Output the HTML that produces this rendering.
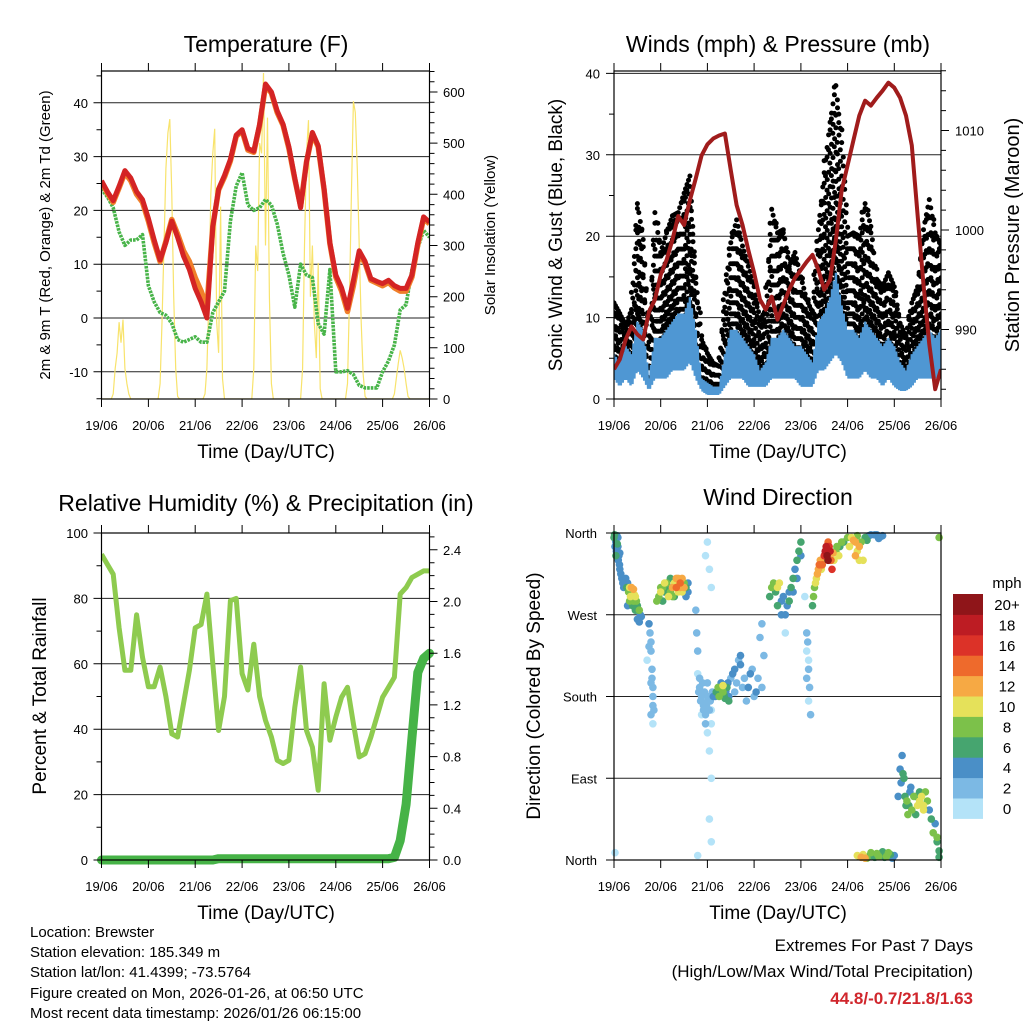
<!DOCTYPE html>
<html><head><meta charset="utf-8"><style>
html,body{margin:0;padding:0;background:#fff;}
svg{display:block;font-family:"Liberation Sans",Arial,sans-serif;}
</style></head><body>
<svg id="chart" width="1024" height="1024" viewBox="0 0 1024 1024" xmlns="http://www.w3.org/2000/svg">
<rect x="0" y="0" width="1024" height="1024" fill="#fff"/>
<defs>
<clipPath id="c1"><rect x="101.5" y="71" width="328" height="328"/></clipPath>
<clipPath id="c2"><rect x="614" y="71" width="327" height="328"/></clipPath>
<clipPath id="c3"><rect x="101.5" y="533" width="328" height="327"/></clipPath>
<clipPath id="c4"><rect x="608" y="527" width="339" height="339"/></clipPath>
</defs>
<text x="266" y="52" font-size="23" text-anchor="middle">Temperature (F)</text>
<text x="778" y="52" font-size="23" text-anchor="middle">Winds (mph) &amp; Pressure (mb)</text>
<text x="266" y="511" font-size="23" text-anchor="middle">Relative Humidity (%) &amp; Precipitation (in)</text>
<text x="778" y="505" font-size="23" text-anchor="middle">Wind Direction</text>
<text x="266" y="458" font-size="19" text-anchor="middle">Time (Day/UTC)</text>
<text x="778" y="458" font-size="19" text-anchor="middle">Time (Day/UTC)</text>
<text x="266" y="919" font-size="19" text-anchor="middle">Time (Day/UTC)</text>
<text x="778" y="919" font-size="19" text-anchor="middle">Time (Day/UTC)</text>
<text transform="translate(50,235) rotate(-90)" font-size="15" text-anchor="middle">2m &amp; 9m T (Red, Orange) &amp; 2m Td (Green)</text>
<text transform="translate(495,235) rotate(-90)" font-size="15" text-anchor="middle">Solar Insolation (Yellow)</text>
<text transform="translate(562,235) rotate(-90)" font-size="19" text-anchor="middle">Sonic Wind &amp; Gust (Blue, Black)</text>
<text transform="translate(1019,235) rotate(-90)" font-size="20" text-anchor="middle">Station Pressure (Maroon)</text>
<text transform="translate(46,696) rotate(-90)" font-size="19" text-anchor="middle">Percent &amp; Total Rainfall</text>
<text transform="translate(540,696) rotate(-90)" font-size="19" text-anchor="middle">Direction (Colored By Speed)</text>
<g font-size="15">
<text x="30" y="937">Location: Brewster</text>
<text x="30" y="957">Station elevation: 185.349 m</text>
<text x="30" y="977">Station lat/lon: 41.4399; -73.5764</text>
<text x="30" y="998">Figure created on Mon, 2026-01-26, at 06:50 UTC</text>
<text x="30" y="1018">Most recent data timestamp: 2026/01/26 06:15:00</text>
</g>
<g font-size="17" text-anchor="end">
<text x="973" y="951">Extremes For Past 7 Days</text>
<text x="973" y="977">(High/Low/Max Wind/Total Precipitation)</text>
<text x="973" y="1004" fill="#d0262c" font-weight="bold">44.8/-0.7/21.8/1.63</text>
</g>
</svg>
<script>
// ---------- data (3-hourly, hours since 19/06 00 UTC) ----------
const hours = [0,3,6,9,12,15,18,21,24,27,30,33,36,39,42,45,48,51,54,57,60,63,66,69,72,75,78,81,84,87,90,93,96,99,102,105,108,111,114,117,120,123,126,129,132,135,138,141,144,147,150,153,156,159,162,165,168];
const dayLabels = ['19/06','20/06','21/06','22/06','23/06','24/06','25/06','26/06'];
const temp2m = [25.5,23.5,21.8,24.5,27.4,26,23.5,22,18.5,14.5,10.8,14,18,15,11.5,9,5.5,3,0,17,24,26.5,29.5,34,35,31.5,31,36,43.5,42,38.5,36,31.8,26,20.5,29,34.5,32,24,14,8,5.6,1.8,7,12.5,10.5,7.3,6.8,6.4,7,6,5.5,5.5,8,14,18.8,17.8];
const temp9m = [25.3,23.2,21.5,24.2,27,25.5,23,21.5,18,14,10.5,14.3,18.3,15.6,12.5,10.5,7.5,5,2,17,23.8,26.2,29.2,33.8,34.8,31.2,30.8,35.8,43.2,41.8,38.2,35.8,31.5,25.8,20.8,29,34.2,31.8,23.8,13.8,7.6,5,1.2,6,11.8,10.2,7,6.5,6,6.6,5.6,5,5,7.6,13.6,18.5,17.5];
const dewpoint = [24,22.5,20.5,16,13.5,14.5,14.5,15.5,6,3,1,0.5,-1,-4,-4.5,-4,-3.5,-4.5,-4.5,1,3,5,18,24.5,27,21,20,20.5,22,21,17.5,12,8,2,10,8,7.5,-1,-3,9,-10,-10,-9.8,-10.5,-12.5,-13,-13,-13,-10,-8,-5,1.5,2.5,9,13,16.3,15];
const solarDay1 = [0,0,0,0,0,0,10,60,90,150,110,155,60,30,10,0,0,0,0,0,0,0,0,0];
const solarDay2 = [0,0,0,0,0,0,30,150,300,450,520,547,400,200,60,5,0,0,0,0,0,0,0,0];
const solarDay3 = [0,0,0,0,0,10,60,200,400,480,528,150,90,376,40,0,0,0,0,0,0,0,0,0];
const solarDay4 = [0,0,0,0,0,0,60,300,250,500,480,637,300,550,200,30,0,0,0,0,0,0,0,0];
const solarDay5 = [0,0,0,0,0,0,0,60,300,480,545,200,300,150,80,266,20,0,0,0,0,0,0,0];
const solarDay6 = [0,0,0,0,0,0,30,200,400,582,560,450,300,150,50,5,0,0,0,0,0,0,0,0];
const solarDay7 = [0,0,0,0,0,0,10,40,70,95,80,60,30,5,0,0,0,0,0,0,0,0,0,0,0];
const pressure = [986,987,989,990.3,989.5,989,991.8,993,995.5,997,999,1001.4,1000.5,1003,1005.2,1007.5,1008.6,1009.2,1009.5,1009.7,1006,1002.5,1000.5,998,995.7,993,992,993.3,991,992.5,994,995.2,996,996.8,997.5,996,994,995,999,1004,1006.5,1009,1011.5,1013,1012.5,1013.3,1014,1014.8,1014.3,1013.3,1011.5,1008.5,1001.5,994.5,988.5,984,986];
const gustMax = [11.8,10.5,9,11,24,19.6,7,22.9,18,20.4,22.5,22.9,25.3,27.4,15,7.3,5.6,4.4,4,13,19.2,22,18.8,16.3,13.8,9.7,11,23.3,20.4,20.8,16.3,18,15,12.2,10.6,20.8,27.8,34,38.5,31.5,20,20.4,20,24,21.2,14.7,13.8,15.5,13.8,9.3,7.7,11.8,13.8,20.8,24.5,20.4,18.8];
const windHigh = [6,5,7,6,10,9,3,8,8,9,10,11,11,13,9,3,2.5,2,2,6,9,9,8,7,6,4,5,8,8,9,8,7,7,6,5,10,11,13,16,12,9,9,8,10,9,8,7,8,7,5,4,6,7,8,9,8,9];
const windLow = [2,1,2,1,3,2,0.5,2,2,2,3,3,3,4,2,0.5,0,0,0,1,2,2,2,1,1,1,1,2,2,2,2,2,1,1,1,3,3,4,5,4,2,2,2,3,2,2,1,2,1,0.5,0.5,1,2,2,2,2,2];
const relHum = [93.5,90.4,87.4,71,58,58,75,62,53,53,59,50,38.6,37.6,47.8,58,71,72,81.3,60,39.6,50,79.3,80,57,52,66,50,42.7,37.6,30.5,29.5,30.5,46.7,59,39.6,34.5,21.3,53.9,36.6,43.7,49.8,52.8,41.7,31.5,32.5,37.6,43.7,49.8,52.8,55.9,81.3,83.3,86.4,87.4,88.4,88.4];
const precip = [0,0,0,0,0,0,0,0,0,0,0,0,0,0,0,0,0,0,0,0,0.01,0.01,0.01,0.01,0.01,0.01,0.01,0.01,0.01,0.01,0.01,0.01,0.01,0.01,0.01,0.01,0.01,0.01,0.01,0.01,0.01,0.01,0.01,0.01,0.01,0.01,0.01,0.01,0.01,0.01,0.02,0.15,0.43,0.94,1.45,1.56,1.6];
const wdHourA = [0,1,1.5,2,2.5,3,4,5,6,7,8,9,10,10,11,12,13,14,17,18,19,19,19.5,20,20,20,22,24,26,28,29,30,32,33,34,35,36,37,38,42,42.5,43,43,44,45,46,47,47,48,48,48,49,49,49,49,50,50,50,50,52,53,54,55,55,56,57,58,59,60,62,64,65,66,68,70,72,75,76,77,80,82,84,86,88,88,90,92,94,96,98,99,99,100,100,101,102,103,104,105,106,107,108,109,110,110,111,112,113,114,116,117,122,124,125,126,128,130,132,135,136,138,125,127,130,133,136,139,141,144,146,147,148,149,150,151,152,153,155,157,159,160,162,165,166,167,167,167,0.5,43];
const wdDirA = [355,350,357,345,335,320,310,300,310,305,300,295,285,298,290,280,275,268,220,260,240,160,210,190,170,150,285,300,305,300,310,290,310,295,305,310,300,290,305,275,250,230,205,190,180,170,160,335,175,350,140,165,320,120,45,300,150,90,20,180,185,180,190,195,185,178,190,180,200,210,220,225,190,175,205,180,245,260,225,290,305,300,285,270,250,295,310,330,350,290,250,200,220,175,160,280,300,310,320,330,325,335,345,330,350,340,320,330,340,345,350,355,350,357,345,330,352,358,358,354,357,5,3,2,6,4,3,8,5,70,100,115,90,60,50,75,55,70,65,60,75,55,40,25,10,3,355,8,5];
const wdSpeedA = [6,4,5,4,4,4,4,5,4,4,10,8,8,12,10,6,8,4,1,4,3,2,2,2,2,1,8,8,10,6,6,8,12,10,14,12,12,4,4,2,2,3,1,2,2,2,2,1,2,0,0,2,1,0,0,0,1,0,0,4,6,8,6,4,8,6,6,4,2,4,2,4,2,2,4,2,2,3,2,6,8,10,4,4,1,4,6,6,6,1,2,2,1,1,2,6,8,10,12,12,14,16,18,20,14,18,16,10,8,6,8,10,12,8,12,10,6,4,4,5,4,10,12,8,6,8,6,8,4,4,4,4,6,6,8,4,8,6,10,10,8,4,4,8,6,6,8,1,1];
const wdHourB = [0.3,0.8,1.2,1.7,2.2,2.8,3.5,0.5,1,2,3,4.5,6.5,7.5,8.5,9.5,10.5,11.5,12.5,13.5,8,9,11,12,13,7,18.5,19,19.5,20,20.5,19,18,23,24,25,26,27,28,30,31,32,33,34,35,36,37,38,25,29,31,43.5,44.5,45.5,46.5,47.5,48.5,49.5,50.5,51,46,44,45,47,48,50,52.5,53.5,54.5,55.5,56.5,57.5,58.5,59,56,61,63,65,67,69,71,73,62,74,76,81,83,85,87,89,91,93,95,84,86,90,92,94,96,99.5,100,100.5,99,102.5,103.5,104.5,105.5,106.5,107.5,108.5,109.5,110.5,111.5,112.5,114.5,115.5,118,120,121,123,125,127,129,131,134,137,124,126,126,128,129,131,132,134,135,137,138,140,142,143,147.5,148.5,149.5,150.5,151.5,152.5,154,156,158,159,161,163,164,166,155,157];
const wdDirB = [358,352,340,348,330,325,315,345,335,355,338,305,300,295,290,280,292,285,275,270,285,300,275,265,262,280,250,230,200,180,165,195,235,290,295,300,295,305,290,300,305,300,310,300,295,305,300,295,285,295,290,185,175,195,185,170,180,175,185,180,165,200,160,150,195,165,185,190,183,188,182,186,195,175,192,205,195,215,200,190,210,185,185,200,190,300,295,305,290,280,300,320,340,280,270,285,295,310,335,240,210,190,230,290,305,315,325,320,330,340,335,345,330,338,345,335,350,355,345,352,340,350,355,357,358,356,335,330,4,6,2,4,8,3,7,5,9,4,6,2,85,95,70,65,60,80,70,60,70,55,65,45,30,20,50,75];
const wdSpeedB = [6,4,4,6,4,4,4,4,6,5,4,5,6,8,10,6,10,8,6,4,8,12,6,4,4,4,3,2,2,2,2,2,2,8,10,8,6,8,10,12,10,14,12,12,10,8,6,4,6,8,6,2,2,2,2,2,2,2,2,4,2,2,1,2,2,1,6,8,6,8,6,4,4,6,10,4,2,4,2,4,2,4,2,2,2,8,6,10,4,4,6,4,6,6,4,6,4,4,4,2,2,2,1,8,10,12,14,10,8,18,20,16,14,12,8,10,6,8,10,12,10,8,6,4,4,4,12,10,8,10,12,6,8,6,8,4,6,8,6,4,4,6,6,8,6,4,8,10,10,10,8,6,8,6,6,6];
const speedColors = ['#b4e3f8','#7cb9e4','#4a8fc7','#46a56f','#7cc14a','#e5e15a','#f6a944','#ee6a2c','#dc3228','#bd1c23','#8f1519'];
const speedLabels = ['0','2','4','6','8','10','12','14','16','18','20+'];

// ---------- helpers ----------
const NS='http://www.w3.org/2000/svg';
const svg=document.getElementById('chart');
function mk(tag, attrs, parent){const e=document.createElementNS(NS,tag);for(const k in attrs)e.setAttribute(k,attrs[k]);(parent||svg).appendChild(e);return e;}
function lineD(xs,ys){let d='';for(let i=0;i<xs.length;i++)d+=(i?'L':'M')+xs[i].toFixed(1)+' '+ys[i].toFixed(1);return d;}
function interp(arr,h){const i=Math.min(Math.floor(h/3),arr.length-2);const t=(h-hours[i])/3;return arr[i]+(arr[i+1]-arr[i])*t;}

const xL=h=>101.5+h*328/168;
const xR=h=>614+h*327/168;
const yTemp=v=>318-v*5.38;
const ySolar=v=>399-v*0.5117;
const yWind=v=>399-v*8.14;
const yPres=v=>230-(v-1000)*9.95;
const yRH=v=>860-v*3.27;
const yPcp=v=>860-v/0.4*51.7;
const yDir=v=>860-v*327/360;

function frame(x0,x1,y0,y1,name){
  const r=mk('rect',{x:x0,y:y0,width:x1-x0,height:y1-y0,fill:'none',stroke:'#000','stroke-width':1.2});
  
  
}
function grid(x0,x1,ys,name){
  let d='';ys.forEach(y=>{d+='M'+x0+' '+y.toFixed(1)+'H'+x1;});
  const p=mk('path',{d:d,stroke:'#222','stroke-width':1,fill:'none'});
  
  
}
function xAxis(xf,y0,y1,name){
  let d='';
  for(let k=0;k<8;k++){const x=xf(k*24);d+='M'+x.toFixed(1)+' '+y1+'v8M'+x.toFixed(1)+' '+y0+'v-8';}
  const p=mk('path',{d:d,stroke:'#000','stroke-width':1,fill:'none'});
  
  
  for(let k=0;k<8;k++){
    const t=mk('text',{x:xf(k*24),y:y1+31,'font-size':13,'text-anchor':'middle'});
    t.textContent=dayLabels[k];
    
    
  }
}
function yAxis(side,x,yf,majors,minors,labels,name,lx){
  const s=side==='left'?-1:1;let d='';
  majors.forEach(v=>{d+='M'+x+' '+yf(v).toFixed(1)+'h'+(8*s);});
  minors.forEach(v=>{d+='M'+x+' '+yf(v).toFixed(1)+'h'+(5*s);});
  const p=mk('path',{d:d,stroke:'#000','stroke-width':1,fill:'none'});
  
  
  majors.forEach((v,i)=>{
    const t=mk('text',{x:lx,y:yf(v)+5,'font-size':13,'text-anchor':side==='left'?'end':'start'});
    t.textContent=labels[i];
    
    
  });
}
function range(a,b,st){const r=[];for(let v=a;v<=b+1e-9;v+=st)r.push(Math.round(v*100)/100);return r;}

// ---------- Panel 1: temperature ----------
grid(101.5,429.5,[40,30,20,10,0,-10].map(yTemp),'temp');
const g1=mk('g',{'clip-path':'url(#c1)'});


const solar=[].concat(solarDay1,solarDay2,solarDay3,solarDay4,solarDay5,solarDay6,solarDay7);
const sp=mk('path',{d:lineD(solar.map((v,i)=>xL(i)),solar.map(v=>ySolar(v))),stroke:'#f8e36c','stroke-width':1.2,fill:'none'},g1);


const gp=mk('path',{d:lineD(hours.map(xL),dewpoint.map(yTemp)),stroke:'#48b449','stroke-width':3.6,'stroke-dasharray':'2.6 1',fill:'none','stroke-linejoin':'round'},g1);


const op=mk('path',{d:lineD(hours.map(xL),temp9m.map(yTemp)),stroke:'#f07f2a','stroke-width':5.5,fill:'none','stroke-linejoin':'round'},g1);


const rp=mk('path',{d:lineD(hours.map(xL),temp2m.map(yTemp)),stroke:'#d42424','stroke-width':5,fill:'none','stroke-linejoin':'round'},g1);


frame(101.5,429.5,71,399,'temp');
xAxis(xL,71,399,'temp');
yAxis('left',101.5,yTemp,[40,30,20,10,0,-10],[45,35,25,15,5,-5,-15],['40','30','20','10','0','-10'],'temp-y',88);
yAxis('right',429.5,ySolar,[0,100,200,300,400,500,600],range(20,640,20),['0','100','200','300','400','500','600'],'solar-y',443);

// ---------- Panel 2: winds & pressure ----------
grid(614,941,[10,20,30,40].map(yWind),'wind');
const g2=mk('g',{'clip-path':'url(#c2)'});


const gustG=mk('g',{fill:'#000'},g2);


let k=0;
for(let h=0;h<=168;h+=0.75){
  const lo=interp(windHigh,h)*0.9, hi=interp(gustMax,h);
  let j=0;
  for(let w=lo;w<=hi+0.01;w+=(1+0.12*j)){
    const c=mk('circle',{cx:(xR(h)+((j+k)%3-1)*1.6).toFixed(1),cy:yWind(w).toFixed(1),r:2.5},gustG);
    
    
    j++;
  }
  const c2=mk('circle',{cx:xR(h).toFixed(1),cy:yWind(hi).toFixed(1),r:2.5},gustG);
  
  
  k++;
}
const bx=[],by=[];let alt=0;
for(let h=0;h<=168;h+=0.5){bx.push(xR(h));by.push(yWind(alt%2?interp(windLow,h)+0.5:interp(windHigh,h)-0.5));alt++;}
const bp=mk('path',{d:lineD(bx,by),stroke:'#4f97d3','stroke-width':2.4,fill:'none'},g2);


const pp=mk('path',{d:lineD(hours.map(xR),pressure.map(yPres)),stroke:'#a01c1c','stroke-width':4,fill:'none','stroke-linejoin':'round'},g2);


frame(614,941,71,399,'wind');
xAxis(xR,71,399,'wind');
yAxis('left',614,yWind,[0,10,20,30,40],[5,15,25,35],['0','10','20','30','40'],'wind-y',600);
yAxis('right',941,yPres,[990,1000,1010],range(984,1016,2),['990','1000','1010'],'pressure-y',955);

// ---------- Panel 3: RH & precip ----------
grid(101.5,429.5,[20,40,60,80].map(yRH),'rh');
const g3=mk('g',{'clip-path':'url(#c3)'});


const hp=mk('path',{d:lineD(hours.map(xL),relHum.map(yRH)),stroke:'#8ecb4f','stroke-width':5,fill:'none','stroke-linejoin':'round'},g3);


const pcp=mk('path',{d:lineD(hours.map(xL),precip.map(yPcp)),stroke:'#46b347','stroke-width':9,fill:'none','stroke-linejoin':'round','stroke-linecap':'round'},svg);


frame(101.5,429.5,533,860,'rh');
xAxis(xL,533,860,'rh');
yAxis('left',101.5,yRH,[0,20,40,60,80,100],[10,30,50,70,90],['0','20','40','60','80','100'],'rh-y',88);
yAxis('right',429.5,yPcp,[0,0.4,0.8,1.2,1.6,2.0,2.4],range(0.1,2.5,0.1),['0.0','0.4','0.8','1.2','1.6','2.0','2.4'],'precip-y',443);

// ---------- Panel 4: wind direction ----------
grid(614,941,[90,180,270].map(yDir),'dir');
const g4=mk('g',{'clip-path':'url(#c4)'});


const wdHour=wdHourA.concat(wdHourB), wdDir=wdDirA.concat(wdDirB), wdSpeed=wdSpeedA.concat(wdSpeedB);
const order=wdSpeed.map((s,i)=>i).sort((a,b)=>wdSpeed[a]-wdSpeed[b]);
order.forEach(i=>{
  const bin=Math.min(10,Math.floor(wdSpeed[i]/2));
  const c=mk('circle',{cx:xR(wdHour[i]).toFixed(1),cy:yDir(wdDir[i]).toFixed(1),r:3.8,fill:speedColors[bin]},g4);
  
  
});
frame(614,941,533,860,'dir');
xAxis(xR,533,860,'dir');
yAxis('left',614,yDir,[0,90,180,270,360],[],['North','East','South','West','North'],'dir-y',597);
const cb=mk('g',{});


const mt=mk('text',{x:1007,y:588,'font-size':15,'text-anchor':'middle'},cb);
mt.textContent='mph';


for(let b=0;b<11;b++){
  const y=594+(10-b)*20.4;
  const r=mk('rect',{x:953,y:y.toFixed(1),width:30,height:20.9,fill:speedColors[b]},cb);
  
  
  const t=mk('text',{x:1007,y:(y+16).toFixed(1),'font-size':15,'text-anchor':'middle'},cb);
  t.textContent=speedLabels[b];
  
  
}
</script>
</body></html>
